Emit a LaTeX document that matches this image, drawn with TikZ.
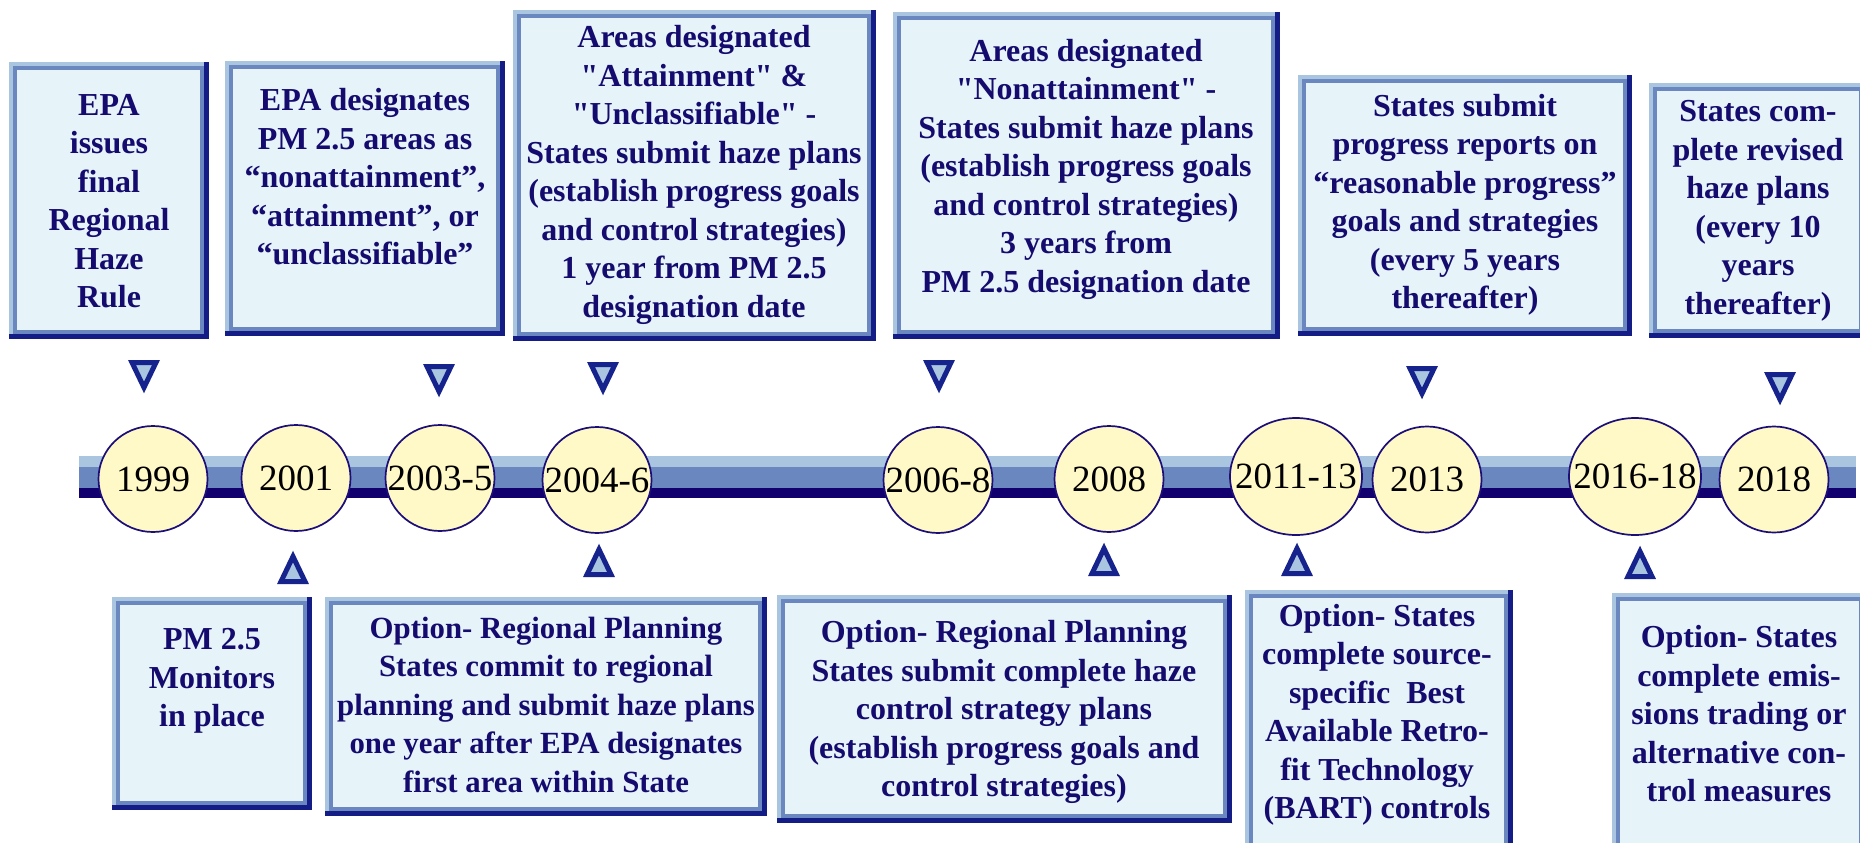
\documentclass[tikz,border=0pt]{standalone}
\usepackage{fontspec}
\setmainfont{Liberation Serif}[Ligatures=TeXOff]
\usetikzlibrary{calc,shapes,backgrounds}

\definecolor{barlight}{HTML}{A9C5E0}
\definecolor{barmid}{HTML}{6B87BF}
\definecolor{barnavy}{HTML}{13006F}
\definecolor{shadenavy}{HTML}{141C85}
\definecolor{boxfill}{HTML}{E6F4FA}
\definecolor{notetext}{HTML}{150B6E}
\definecolor{ringblue}{HTML}{1C0E78}
\definecolor{yrfill}{HTML}{FFF8C7}
\definecolor{triblue}{HTML}{16238C}

\begin{document}
\begin{tikzpicture}[x=1pt, y=-1pt,
  evbox/.style={fill=boxfill, draw=barmid, line width=4pt, inner sep=0pt, outer sep=0pt},
  evtext/.style={text=notetext, font=\bfseries\fontsize{32}{38.5}\selectfont, align=center, inner sep=0pt},
  tighttext/.style={font=\bfseries\fontsize{30.8}{38.5}\selectfont},
  yearnode/.style={ellipse, draw=ringblue, line width=1.7pt, fill=yrfill, minimum width=109pt, minimum height=106pt, inner sep=0pt},
  wideyear/.style={minimum width=132pt, minimum height=117pt},
  every label/.style={font=\fontsize{37}{42}\selectfont, inner sep=0pt},
  tri/.style={draw=triblue, fill=barlight, line width=5pt, line join=miter}]
  \useasboundingbox (0,0) rectangle (1860,843);
  \clip (0,0) rectangle (1860,843);

  % time bar
  \fill[barlight] (79,456) rectangle (1856,467);
  \fill[barmid] (79,467) rectangle (1856,488);
  \fill[barnavy] (79,488) rectangle (1856,498);

  \node[yearnode, label=center:1999] (y1999) at (153,479) {};
  \node[yearnode, label=center:2001] (y2001) at (296,478) {};
  \node[yearnode, label=center:2003-5] (y2003) at (440,478) {};
  \node[yearnode, label=center:2004-6] (y2004) at (597,480) {};
  \node[yearnode, label=center:2006-8] (y2006) at (938,480) {};
  \node[yearnode, label=center:2008] (y2008) at (1109,479) {};
  \node[yearnode, wideyear, label=center:2011-13] (y2011) at (1296,476.5) {};
  \node[yearnode, label=center:2013] (y2013) at (1427,479.5) {};
  \node[yearnode, wideyear, label=center:2016-18] (y2016) at (1635,476.5) {};
  \node[yearnode, label=center:2018] (y2018) at (1774,479.5) {};

  % markers
  \foreach \x/\y in {144/362.5, 439/366.5, 603/364.5, 939/362.5, 1422/368.5, 1780/374.5}
    \draw[tri] (\x-12,\y) -- (\x+12,\y) -- (\x,\y+25) -- cycle;
  \foreach \x/\y in {293/581.5, 599/574.5, 1104/573.5, 1297/573.5, 1640/576.5}
    \draw[tri] (\x-12,\y) -- (\x+12,\y) -- (\x,\y-25) -- cycle;

  % boxes above the bar
  \node[evbox, minimum width=187, minimum height=264] (top1) at (108.5,200) {};
  \node[evbox, minimum width=267, minimum height=262] (top2) at (364.5,198) {};
  \node[evbox, minimum width=350, minimum height=318] (top3) at (694,175) {};
  \node[evbox, minimum width=374, minimum height=314] (top4) at (1086,175) {};
  \node[evbox, minimum width=321, minimum height=248] (top5) at (1464.5,205) {};
  \node[evbox, minimum width=206, minimum height=242] (top6) at (1758,210) {};

  % boxes below the bar
  \node[evbox, minimum width=187, minimum height=200] (bot1) at (211.5,703) {};
  \node[evbox, minimum width=429, minimum height=206] (bot2) at (545.5,706) {};
  \node[evbox, minimum width=442, minimum height=215] (bot3) at (1004,708.5) {};
  \node[evbox, minimum width=255, minimum height=267] (bot4) at (1378.5,729.5) {};
  \node[evbox, minimum width=243, minimum height=264] (bot5) at (1739.5,731) {};

  \begin{scope}[on background layer]
    \foreach \b in {top1,top2,top3,top4,top5,top6,bot1,bot2,bot3,bot4,bot5} {
      \fill[shadenavy] ($(\b.north west)+(-6,-6)$) rectangle ($(\b.south east)+(7,7)$);
      \fill[barlight] ($(\b.north west)+(-6,-6)$) rectangle ($(\b.south east)+(2,2)$);
    }
  \end{scope}

  \node[evtext] (top1t) at (109,201) {EPA\\issues\\final\\Regional\\Haze\\Rule};
  \node[evtext] (top2t) at (365,177) {EPA designates\\PM 2.5 areas as\\“nonattainment”,\\“attainment”, or\\“unclassifiable”};
  \node[evtext] (top3t) at (694,175) {Areas designated\\"Attainment" \&\\"Unclassifiable" -\\States submit haze plans\\(establish progress goals\\and control strategies)\\1 year from PM 2.5\\designation date};
  \node[evtext] (top4t) at (1086,169) {Areas designated\\"Nonattainment" -\\States submit haze plans\\(establish progress goals\\and control strategies)\\3 years from\\PM 2.5 designation date};
  \node[evtext] (top5t) at (1465,205) {States submit\\progress reports on\\“reasonable progress”\\goals and strategies\\(every 5 years\\thereafter)};
  \node[evtext] (top6t) at (1758,211) {States com-\\plete revised\\haze plans\\(every 10\\years\\thereafter)};

  \node[evtext] (bot1t) at (212,681) {PM 2.5\\Monitors\\in place};
  \node[evtext, tighttext] (bot2t) at (546,704.5) {Option- Regional Planning\\States commit to regional\\planning and submit haze plans\\one year after EPA designates\\first area within State};
  \node[evtext] (bot3t) at (1004,712) {Option- Regional Planning\\States submit complete haze\\control strategy plans\\(establish progress goals and\\control strategies)};
  \node[evtext] (bot4t) at (1377,715) {Option- States\\complete source-\\specific\ \ Best\\Available Retro-\\fit Technology\\(BART) controls};
  \node[evtext] (bot5t) at (1739,714) {Option- States\\complete emis-\\sions trading or\\alternative con-\\trol measures};
\end{tikzpicture}
\end{document}
